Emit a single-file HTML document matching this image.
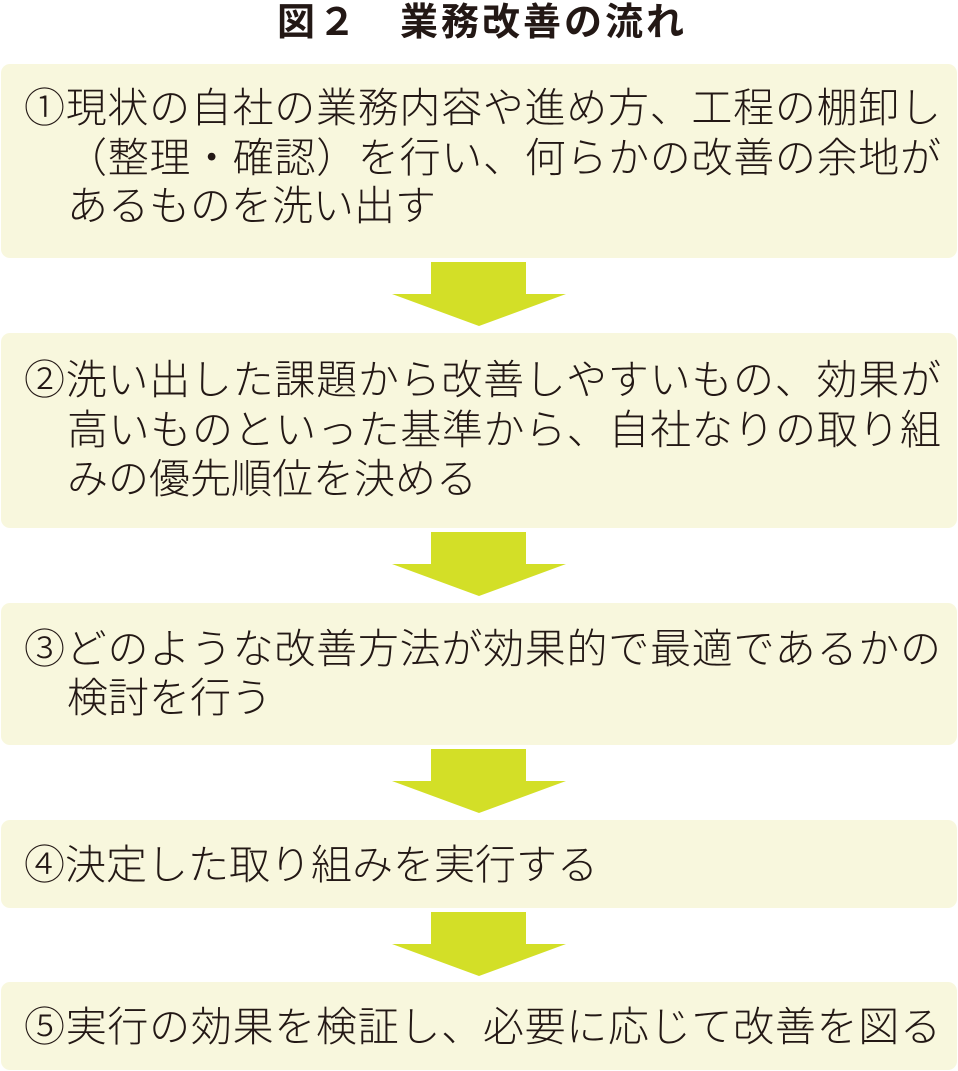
<!DOCTYPE html>
<html><head><meta charset="utf-8"><style>
body{margin:0;width:958px;height:1071px;background:#fff;position:relative;overflow:hidden;font-family:"Liberation Sans","Noto Sans CJK JP",sans-serif;}
.t{position:absolute;left:3px;width:958px;top:0;text-align:center;font-weight:bold;font-size:38px;letter-spacing:3px;line-height:46px;color:#231815;}
.b{position:absolute;left:1px;width:956px;background:#f8f7dd;border-radius:9px;}
.l{position:absolute;font-size:41px;line-height:49px;color:#231815;font-weight:300;white-space:nowrap;}
.j{text-align:justify;text-align-last:justify;white-space:normal;}
svg{position:absolute;left:0;}
</style></head><body>
<div class="t">図２　業務改善の流れ</div>
<div class="b" style="top:64px;height:194px"></div>
<div class="b" style="top:333px;height:195px"></div>
<div class="b" style="top:603px;height:142px"></div>
<div class="b" style="top:820px;height:88px"></div>
<div class="b" style="top:982px;height:88px"></div>

<svg width="958" height="1071" style="top:0">
<g fill="#d3df27">
<polygon points="431,262 526,262 526,294 566,294 479,326 392,294 431,294"/>
<polygon points="431,532 526,532 526,564 566,564 479,596 392,564 431,564"/>
<polygon points="431,749 526,749 526,781 566,781 479,813 392,781 431,781"/>
<polygon points="431,912 526,912 526,944 566,944 479,976 392,944 431,944"/>
</g></svg>

<div class="l j" style="left:24px;width:917px;top:84px">①現状の自社の業務内容や進め方、工程の棚卸し</div>
<div class="l j" style="left:66px;width:875px;top:134px">（整理・確認）を行い、何らかの改善の余地が</div>
<div class="l" style="left:67px;top:182px">あるものを洗い出す</div>

<div class="l j" style="left:24px;width:917px;top:356px">②洗い出した課題から改善しやすいもの、効果が</div>
<div class="l j" style="left:67px;width:874px;top:406px">高いものといった基準から、自社なりの取り組</div>
<div class="l" style="left:67px;top:455px">みの優先順位を決める</div>

<div class="l j" style="left:24px;width:917px;top:625px">③どのような改善方法が効果的で最適であるかの</div>
<div class="l" style="left:67px;top:674px">検討を行う</div>

<div class="l" style="left:24px;top:841px">④決定した取り組みを実行する</div>

<div class="l j" style="left:24px;width:917px;top:1003px">⑤実行の効果を検証し、必要に応じて改善を図る</div>
</body></html>
